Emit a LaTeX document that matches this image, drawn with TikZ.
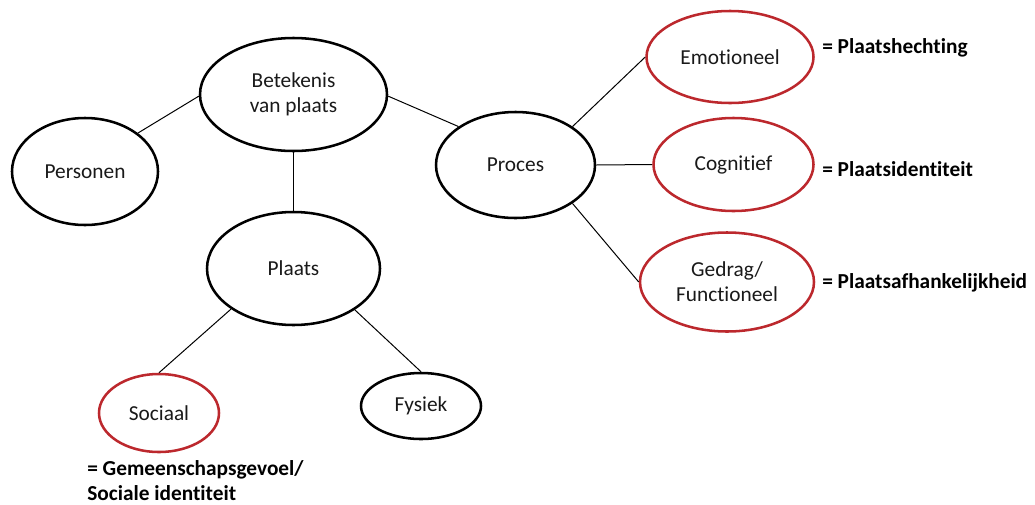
\documentclass[tikz,border=0pt]{standalone}
\usepackage{fontspec}
\setmainfont{Carlito}[Ligatures={NoCommon}]
\usetikzlibrary{shapes.geometric}
\definecolor{ovred}{RGB}{188,40,45}
\tikzset{
  ov/.style={draw=black, line width=1.9pt, shape=ellipse, inner sep=0pt, align=center,
    font=\fontsize{16pt}{18.75pt}\selectfont, text=black!90},
  redov/.style={ov, draw=ovred},
  conn/.style={draw=black, line width=0.75pt},
  eqlabel/.style={font=\fontsize{16pt}{18.75pt}\selectfont\bfseries, inner sep=0pt, align=left}
}
\begin{document}
\begin{tikzpicture}[x=0.75pt, y=-0.75pt]
\useasboundingbox (0,0) rectangle (1035,504);
\node[ov, minimum width=140.25pt, minimum height=84.75pt] (bet) at (293.5,94.5) {Betekenis\\van plaats};
\node[ov, minimum width=109.5pt, minimum height=80.25pt] (pers) at (85,171.5) {Personen};
\node[ov, minimum width=119.25pt, minimum height=79.5pt] (proc) at (515.5,165) {Proces};
\node[ov, minimum width=129.75pt, minimum height=84.75pt] (plaats) at (293.5,268.5) {Plaats};
\node[redov, minimum width=90pt, minimum height=58.5pt] (soc) at (159,413) {Sociaal};
\node[ov, minimum width=90pt, minimum height=49.5pt] (fys) at (421,406) {Fysiek};
\node[redov, minimum width=125.25pt, minimum height=69pt] (emo) at (730,57) {Emotioneel};
\node[redov, minimum width=120pt, minimum height=69.75pt] (cog) at (733.5,164.5) {Cognitief};
\node[redov, minimum width=130.5pt, minimum height=74.25pt] (ged) at (727,282) {Gedrag/\\Functioneel};

\node[eqlabel, anchor=west] (l1) at (822,48) {= Plaatshechting};
\node[eqlabel, anchor=west] (l2) at (822,169) {= Plaatsidentiteit};
\node[eqlabel, anchor=west] (l3) at (822,283) {= Plaatsafhankelijkheid};
\node[eqlabel, anchor=west] (l4) at (87,481) {= Gemeenschapsgevoel/\\Sociale identiteit};

\draw[conn] (pers.36) -- (bet.181);
\draw[conn] (bet.-1) -- (proc.146);
\draw[conn] (bet.south) -- (plaats.north);
\draw[conn] (proc.34) -- (emo.west);
\draw[conn] (proc.east) -- (cog.west);
\draw[conn] (proc.-34) -- (ged.west);
\draw[conn] (plaats.213) -- (soc.north);
\draw[conn] (plaats.-34) -- (fys.north);
\end{tikzpicture}
\end{document}
